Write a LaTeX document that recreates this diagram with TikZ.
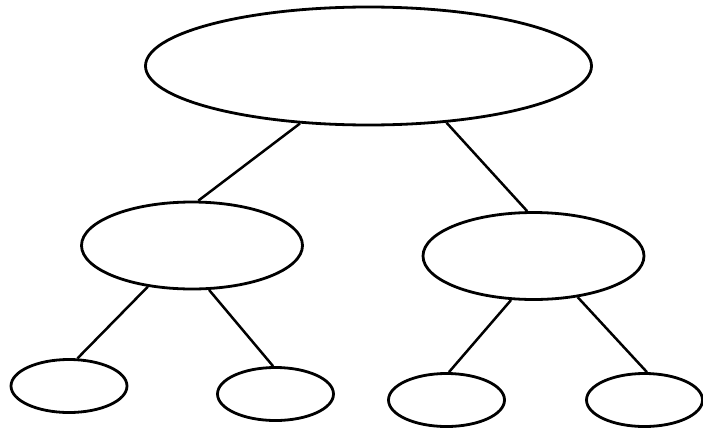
\documentclass[tikz,border=0pt]{standalone}
\usetikzlibrary{shapes.geometric}

\tikzset{
    blob/.style={draw=black, line width=2.8pt, ellipse, inner sep=0pt},
    root blob/.style={blob, minimum width=446pt, minimum height=118pt},
    mid blob/.style={blob, minimum width=221pt, minimum height=87pt},
    leaf blob/.style={blob, minimum width=116pt, minimum height=53pt},
    branch/.style={line width=2.5pt, black},
}

\begin{document}
\begin{tikzpicture}[x=1pt, y=-1pt]
    \useasboundingbox (0,0) rectangle (703,431);

    % Root
    \node[root blob] (root) at (368.5,66) {};

    % Second level
    \node[mid blob] (left) at (192,245.5) {};
    \node[mid blob] (right) at (533.5,256) {};

    % Leaves
    \node[leaf blob] (leftleft) at (69,386) {};
    \node[leaf blob] (leftright) at (275.5,394) {};
    \node[leaf blob] (rightleft) at (446.5,400) {};
    \node[leaf blob] (rightright) at (644.5,400) {};

    % Branches
    \draw[branch] (root.220) -- (left.82);
    \draw[branch] (root.324) -- (right.98);
    \draw[branch] (left.223) -- (leftleft.73);
    \draw[branch] (left.291) -- (leftright.95);
    \draw[branch] (right.243) -- (rightleft.85);
    \draw[branch] (right.317) -- (rightright.85);

\end{tikzpicture}
\end{document}
